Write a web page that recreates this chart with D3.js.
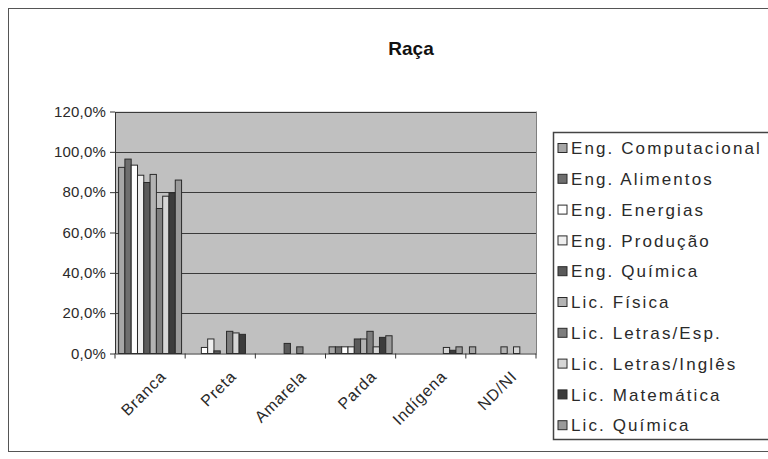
<!DOCTYPE html>
<html>
<head>
<meta charset="utf-8">
<script src="https://cdn.jsdelivr.net/npm/d3@7/dist/d3.min.js"></script>
<style>
  html, body { margin: 0; padding: 0; background: #fff; overflow: hidden; }
  svg { display: block; font-family: "Liberation Sans", Arial, sans-serif; }
</style>
</head>
<body>
<svg id="chart" width="768" height="459"></svg>
<script>
const title = "Raça";
const categories = ["Branca", "Preta", "Amarela", "Parda", "Indígena", "ND/NI"];
const seriesNames = ["Eng. Computacional", "Eng. Alimentos", "Eng. Energias", "Eng. Produção",
  "Eng. Química", "Lic. Física", "Lic. Letras/Esp.", "Lic. Letras/Inglês", "Lic. Matemática", "Lic. Química"];
// values[series][category] in %
const values = [
  [92.3, 0,    0,   3.3,  0,   3.3],
  [96.4, 0,    0,   3.3,  0,   0],
  [93.4, 3.0,  0,   3.3,  0,   0],
  [88.4, 7.2,  0,   3.3,  0,   0],
  [84.8, 1.3,  5.0, 7.2,  0,   0],
  [88.8, 0,    0,   7.2,  0,   3.3],
  [71.9, 11.0, 3.3, 11.0, 0,   0],
  [78.0, 10.2, 0,   3.3,  3.0, 3.3],
  [79.7, 9.5,  0,   8.0,  1.6, 0],
  [86.0, 0,    0,   8.8,  3.3, 0]
];
const seriesColors = ["#a6a6a6", "#6e6e6e", "#ffffff", "#efefef", "#5a5a5a",
  "#b3b3b3", "#7d7d7d", "#d6d6d6", "#3c3c3c", "#9a9a9a"];
const yTicks = [0, 20, 40, 60, 80, 100, 120];

const svg = d3.select("#chart");

// outer chart border
svg.append("rect").attr("x", 8.5).attr("y", 8.5).attr("width", 800).attr("height", 443)
  .attr("fill", "#fff").attr("stroke", "#555").attr("stroke-width", 1);

const plot = { left: 115, right: 536, top: 111.5, bottom: 353.5 };

const x0 = d3.scaleBand().domain(categories).range([plot.left, plot.right]);
const x1 = d3.scaleBand().domain(d3.range(seriesNames.length))
  .range([3.6, x0.bandwidth() - 3.6]);
const y = d3.scaleLinear().domain([0, 120]).range([plot.bottom, plot.top]);

// plot background
svg.append("rect").attr("x", plot.left).attr("y", plot.top)
  .attr("width", plot.right - plot.left).attr("height", plot.bottom - plot.top)
  .attr("fill", "#c0c0c0");

// gridlines
svg.append("g").selectAll("line").data(yTicks.filter(d => d > 0)).join("line")
  .attr("x1", plot.left).attr("x2", plot.right)
  .attr("y1", d => Math.round(y(d)) + 0.5).attr("y2", d => Math.round(y(d)) + 0.5)
  .attr("stroke", "#3a3a3a").attr("stroke-width", 1);

// right border of plot
svg.append("line").attr("x1", plot.right + 0.5).attr("x2", plot.right + 0.5)
  .attr("y1", plot.top).attr("y2", plot.bottom).attr("stroke", "#808080");

// bars
const groups = svg.append("g").selectAll("g").data(seriesNames).join("g")
  .attr("fill", (d, i) => seriesColors[i]);
groups.selectAll("rect")
  .data((s, i) => categories.map((c, j) => ({ c, v: values[i][j], i })))
  .join("rect")
  .filter(d => d.v > 0)
  .attr("x", d => x0(d.c) + x1(d.i))
  .attr("width", x1.bandwidth())
  .attr("y", d => y(d.v))
  .attr("height", d => y(0) - y(d.v))
  .attr("stroke", "#2a2a2a").attr("stroke-width", 1);

// y axis
const yAxis = d3.axisLeft(y).tickValues(yTicks).tickSize(5).tickSizeOuter(0)
  .tickFormat(d => d.toFixed(1).replace(".", ",") + "%");
const gy = svg.append("g").attr("transform", `translate(${plot.left},0)`).call(yAxis);
gy.select(".domain").attr("stroke", "#333");
gy.selectAll(".tick line").attr("stroke", "#333");
gy.selectAll("text").attr("font-size", 15).attr("fill", "#2a2a2a").attr("x", -9)
  .attr("letter-spacing", 0.2)
  .style("font-family", "Liberation Sans, Arial, sans-serif");

// x axis
const xAxis = d3.axisBottom(x0).tickSize(0).tickSizeOuter(0);
const gx = svg.append("g").attr("transform", `translate(0,${plot.bottom})`).call(xAxis);
gx.select(".domain").attr("stroke", "#333");
gx.selectAll("text")
  .attr("font-size", 16).attr("fill", "#2a2a2a")
  .attr("letter-spacing", 0.8)
  .style("font-family", "Liberation Sans, Arial, sans-serif")
  .attr("text-anchor", "end")
  .attr("dy", 0).attr("y", 0)
  .attr("transform", "translate(17,24) rotate(-45)");
// boundary ticks
svg.append("g").selectAll("line").data(d3.range(categories.length + 1)).join("line")
  .attr("x1", i => plot.left + i * x0.step()).attr("x2", i => plot.left + i * x0.step())
  .attr("y1", plot.bottom).attr("y2", plot.bottom + 5)
  .attr("stroke", "#333");

// title
svg.append("text").attr("x", 411).attr("y", 55).attr("text-anchor", "middle")
  .attr("font-size", 19).attr("font-weight", "bold").attr("fill", "#111").text(title);

// legend
const legendX = 553.5, legendY = 132.5, rowH = 30.8, firstRow = 148;
svg.append("rect").attr("x", legendX).attr("y", legendY).attr("width", 260).attr("height", 307)
  .attr("fill", "#fff").attr("stroke", "#444").attr("stroke-width", 1.5);
const items = svg.append("g").selectAll("g").data(seriesNames).join("g")
  .attr("transform", (d, i) => `translate(${legendX + 4},${firstRow + i * rowH})`);
items.append("rect").attr("x", 0.5).attr("y", -4.5).attr("width", 9).attr("height", 9)
  .attr("fill", (d, i) => seriesColors[i]).attr("stroke", "#2a2a2a");
items.append("text").attr("x", 13.5).attr("y", 0).attr("dy", "0.36em")
  .attr("font-size", 17).attr("fill", "#2a2a2a").attr("letter-spacing", 2.1)
  .text(d => d);
</script>
</body>
</html>
